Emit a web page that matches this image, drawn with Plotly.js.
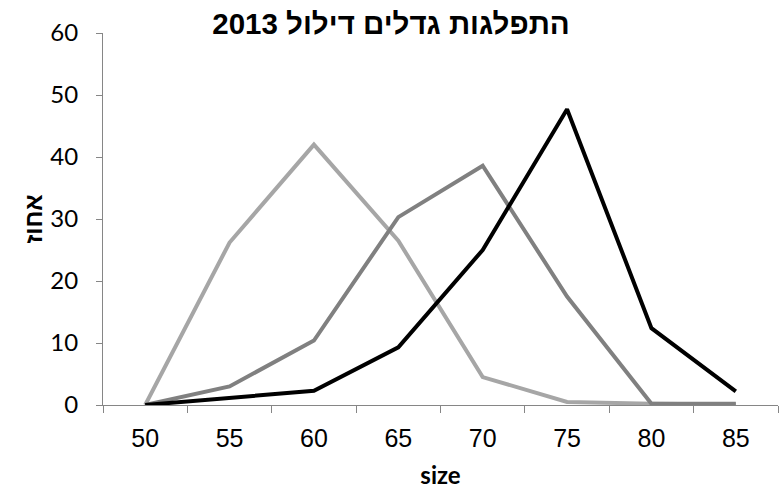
<!DOCTYPE html>
<html>
<head>
<meta charset="utf-8">
<script src="https://cdn.plot.ly/plotly-3.0.1.min.js"></script>
<style>html,body{margin:0;padding:0;background:#fff;}#chart{width:782px;height:495px;}</style>
</head>
<body>
<div id="chart"></div>
<script>
var categories = ["50", "55", "60", "65", "70", "75", "80", "85"];
var seriesLight = [0, 26.2, 42, 26.5, 4.5, 0.5, 0.2, 0.1];
var seriesMid = [0, 3.0, 10.4, 30.3, 38.6, 17.5, 0.2, 0.2];
var seriesBlack = [0, 1.1, 2.3, 9.3, 25.0, 47.7, 12.4, 2.2];
var yTicks = [0, 10, 20, 30, 40, 50, 60];

function line(y, color) {
  return {x: categories, y: y, type: 'scatter', mode: 'lines',
    line: {color: color, width: 4}, hoverinfo: 'skip', showlegend: false};
}

var data = [line(seriesLight, '#a6a6a6'), line(seriesMid, '#808080'), line(seriesBlack, '#000000')];

var layout = {
  width: 782, height: 495,
  margin: {l: 103, r: 4, t: 33, b: 90},
  paper_bgcolor: '#ffffff', plot_bgcolor: '#ffffff',
  showlegend: false,
  title: {text: 'התפלגות גדלים דילול 2013', x: 0.5, xanchor: 'center', y: 0.953, yanchor: 'middle',
    font: {family: 'Liberation Sans, Arial, sans-serif', size: 29.5, color: '#000', weight: 'bold'}},
  xaxis: {
    type: 'category', range: [-0.5, 7.5], tickson: 'boundaries',
    showgrid: false, zeroline: false, showline: true, linecolor: '#868686', linewidth: 1,
    ticks: 'outside', ticklen: 7, tickcolor: '#868686', tickwidth: 1,
    tickfont: {family: 'Liberation Sans Narrow, Arial Narrow, Liberation Sans, sans-serif', size: 25, color: '#000'},
    ticklabelstandoff: 11,
    title: {text: 'size', standoff: 16, font: {family: 'Lato, Carlito, sans-serif', size: 24, color: '#000', weight: 'bold'}}
  },
  yaxis: {
    range: [0, 60], tickvals: yTicks, ticktext: yTicks.map(String),
    showgrid: false, zeroline: false, showline: true, linecolor: '#868686', linewidth: 1,
    ticks: 'outside', ticklen: 6, tickcolor: '#868686', tickwidth: 1,
    tickfont: {family: 'Lato, Carlito, sans-serif', size: 24, color: '#000'},
    ticklabelstandoff: 13,
    title: {text: 'אחוז', standoff: 0, font: {family: 'Liberation Sans, Arial, sans-serif', size: 24, color: '#000', weight: 'bold'}}
  }
};

Plotly.newPlot('chart', data, layout, {displayModeBar: false, staticPlot: true});
</script>
</body>
</html>
